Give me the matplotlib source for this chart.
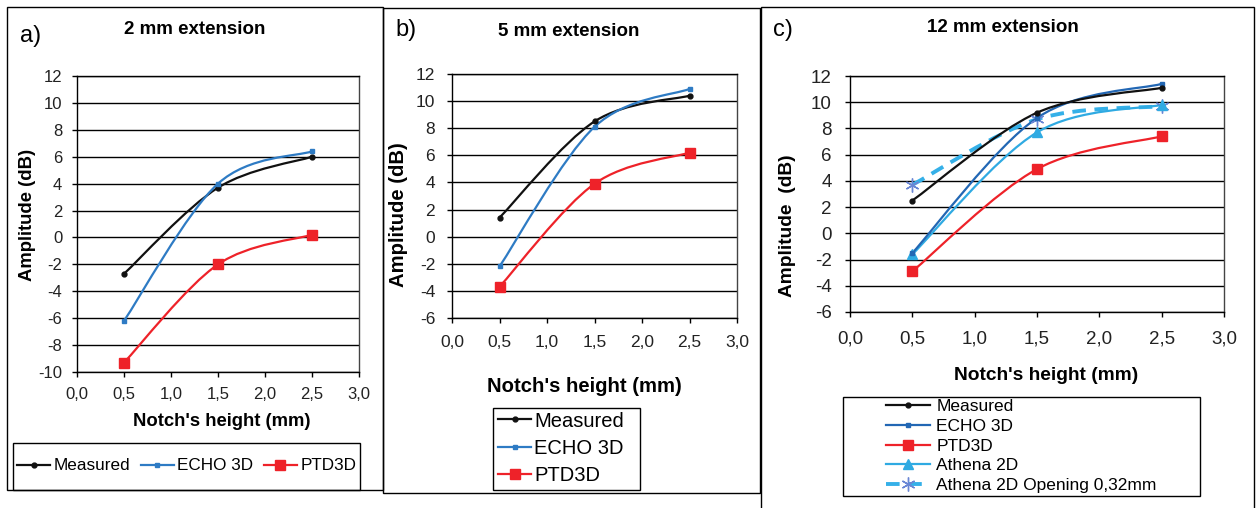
import numpy as np
import matplotlib
matplotlib.use('Agg')
import matplotlib.pyplot as plt
from matplotlib.path import Path
from matplotlib.patches import PathPatch, Rectangle
from matplotlib.lines import Line2D
from matplotlib.ticker import FuncFormatter, MultipleLocator

plt.rcParams['font.family'] = ['Liberation Sans', 'DejaVu Sans']

# ---------------- data ----------------
notch = [0.5, 1.5, 2.5]

a_measured = [-2.7, 3.7, 6.0]
a_echo = [-6.2, 4.0, 6.4]
a_ptd = [-9.3, -2.0, 0.2]

b_measured = [1.4, 8.5, 10.4]
b_echo = [-2.2, 8.1, 10.9]
b_ptd = [-3.7, 3.9, 6.2]

c_measured = [2.5, 9.2, 11.1]
c_echo = [-1.5, 8.8, 11.4]
c_ptd = [-2.9, 4.9, 7.4]
c_athena = [-1.6, 7.7, 9.8]
c_athena_open = [3.7, 8.7, 9.7]

series_names = ["Measured", "ECHO 3D", "PTD3D", "Athena 2D", "Athena 2D Opening 0,32mm"]
titles = ["2 mm extension", "5 mm extension", "12 mm extension"]
panel_tags = ["a)", "b)", "c)"]

# ---------------- layout ----------------
W, H = 1259, 508
fig = plt.figure(figsize=(W / 100, H / 100), dpi=100)


def fx(x):
    return x / W


def fy(y):
    return 1 - y / H


def box(x0, y0, x1, y1, lw=1.0):
    fig.add_artist(Rectangle((fx(x0), fy(y1)), (x1 - x0) / W, (y1 - y0) / H,
                             transform=fig.transFigure, fill=False,
                             ec='black', lw=lw, zorder=0))


def make_axes(x0, y0, x1, y1, ymin, labelsize, pad):
    ax = fig.add_axes([fx(x0), fy(y1), (x1 - x0) / W, (y1 - y0) / H])
    ax.set_xlim(0, 3)
    ax.set_ylim(ymin, 12)
    ax.xaxis.set_major_locator(MultipleLocator(0.5))
    ax.yaxis.set_major_locator(MultipleLocator(2))
    ax.xaxis.set_major_formatter(FuncFormatter(lambda v, _: f"{v:.1f}".replace('.', ',')))
    ax.yaxis.set_major_formatter(FuncFormatter(lambda v, _: f"{v:.0f}"))
    ax.grid(axis='y', color='black', lw=1.0)
    ax.set_axisbelow(True)
    ax.tick_params(direction='out', length=3.6, width=1.0, pad=pad,
                   labelsize=labelsize, labelcolor='#222222')
    for s in ['left', 'bottom', 'top']:
        ax.spines[s].set_color('black')
        ax.spines[s].set_linewidth(1.0)
    ax.spines['right'].set_color('#444444')
    ax.spines['right'].set_linewidth(1.0)
    return ax


def smooth_path(x, y):
    pts = np.column_stack([x, y]).astype(float)
    n = len(pts)
    verts = [pts[0]]
    codes = [Path.MOVETO]
    for i in range(n - 1):
        p0 = pts[i - 1] if i > 0 else pts[i]
        p1 = pts[i]
        p2 = pts[i + 1]
        p3 = pts[i + 2] if i + 2 < n else pts[i + 1]
        c1 = p1 + (p2 - p0) / 6.0
        c2 = p2 - (p3 - p1) / 6.0
        verts += [c1, c2, p2]
        codes += [Path.CURVE4] * 3
    return Path(np.array(verts), codes)


def series(ax, x, y, color, lw, marker, ms, mfc, mec, ls='-', z=3, mew=1.0):
    patch = PathPatch(smooth_path(x, y), fill=False, edgecolor=color, lw=lw,
                      linestyle=ls, capstyle='butt', joinstyle='round', zorder=z)
    ax.add_patch(patch)
    ax.plot(x, y, linestyle='none', marker=marker, ms=ms, mfc=mfc, mec=mec,
            mew=mew, zorder=z + 0.5, clip_on=False)
    return Line2D([], [], color=color, lw=lw, ls=ls, marker=marker, ms=ms,
                  mfc=mfc, mec=mec, mew=mew)


BLACK = '#111111'
BLUE = '#2E7BC4'
BLUE_C = '#2267B4'
RED = '#EE2229'
LBLUE = '#2FAAE2'
ASTER = '#6A86D4'

# ---------------- panel frames ----------------
box(7, 7, 383, 490)
box(383, 8, 760, 493)
box(761, 7, 1254, 515)

# ---------------- panel a ----------------
axa = make_axes(77, 76, 359, 372, -10, 12, 7)
ha = [series(axa, notch, a_measured, BLACK, 1.6, 'o', 3.5, BLACK, BLACK),
      series(axa, notch, a_echo, BLUE, 1.6, 's', 3.5, BLUE, BLUE),
      series(axa, notch, a_ptd, RED, 1.6, 's', 7.5, RED, RED)]
fig.text(fx(31), fy(36), panel_tags[0], fontsize=17, ha='center', va='center')
fig.text(fx(195), fy(30), titles[0], fontsize=13.5, fontweight='bold', ha='center', va='center')
fig.text(fx(28), fy(215), "Amplitude (dB)", fontsize=13.3, fontweight='bold',
         rotation=90, ha='center', va='center')
fig.text(fx(222), fy(421), "Notch's height (mm)", fontsize=13.3, fontweight='bold',
         ha='center', va='center')
box(13, 443, 360, 490)
fig.legend(ha, series_names[:3], loc='center left',
           bbox_to_anchor=(fx(17), fy(466)), ncol=3, frameon=False,
           fontsize=12.3, borderpad=0, borderaxespad=0, handlelength=1.95,
           handletextpad=0.2, columnspacing=0.6, numpoints=1)

# ---------------- panel b ----------------
axb = make_axes(452, 74, 737, 318, -6, 12.5, 8.5)
hb = [series(axb, notch, b_measured, BLACK, 1.6, 'o', 3.5, BLACK, BLACK),
      series(axb, notch, b_echo, BLUE, 1.6, 's', 3.5, BLUE, BLUE),
      series(axb, notch, b_ptd, RED, 1.6, 's', 7.5, RED, RED)]
fig.text(fx(406), fy(30), panel_tags[1], fontsize=17, ha='center', va='center')
fig.text(fx(569), fy(32), titles[1], fontsize=13.5, fontweight='bold', ha='center', va='center')
fig.text(fx(398), fy(215), "Amplitude (dB)", fontsize=14.6, fontweight='bold',
         rotation=90, ha='center', va='center')
fig.text(fx(584), fy(387), "Notch's height (mm)", fontsize=14.6, fontweight='bold',
         ha='center', va='center')
box(493, 408, 640, 490)
fig.legend(hb, series_names[:3], loc='center left',
           bbox_to_anchor=(fx(498), fy(448.5)), ncol=1, frameon=False,
           fontsize=14.5, borderpad=0, borderaxespad=0, handlelength=1.65,
           handletextpad=0.15, labelspacing=0.42, numpoints=1)

# ---------------- panel c ----------------
axc = make_axes(850, 76, 1224, 312, -6, 13.5, 9.5)
hc = [series(axc, notch, c_measured, BLACK, 1.6, 'o', 3.5, BLACK, BLACK, z=3.4),
      series(axc, notch, c_echo, BLUE_C, 1.6, 's', 3.5, BLUE_C, BLUE_C, z=3.3),
      series(axc, notch, c_ptd, RED, 1.6, 's', 7.5, RED, RED, z=3.2),
      series(axc, notch, c_athena, LBLUE, 1.6, '^', 6.5, LBLUE, LBLUE, z=3.1),
      series(axc, notch, c_athena_open, '#35B0E8', 2.8, (6, 2, 0), 10, ASTER, ASTER,
             ls=(0, (3.5, 2.2)), z=3.0, mew=1.0)]
fig.text(fx(783), fy(30), panel_tags[2], fontsize=17, ha='center', va='center')
fig.text(fx(1003), fy(28), titles[2], fontsize=13.5, fontweight='bold', ha='center', va='center')
fig.text(fx(787), fy(226), "Amplitude  (dB)", fontsize=13.8, fontweight='bold',
         rotation=90, ha='center', va='center')
fig.text(fx(1046), fy(376), "Notch's height (mm)", fontsize=13.8, fontweight='bold',
         ha='center', va='center')
box(843, 397, 1200, 496)
fig.legend(hc, series_names, loc='center left',
           bbox_to_anchor=(fx(886), fy(446)), ncol=1, frameon=False,
           fontsize=12.5, borderpad=0, borderaxespad=0, handlelength=2.55,
           handletextpad=0.35, labelspacing=0.27, numpoints=1)

fig.savefig('out.png', dpi=100)
